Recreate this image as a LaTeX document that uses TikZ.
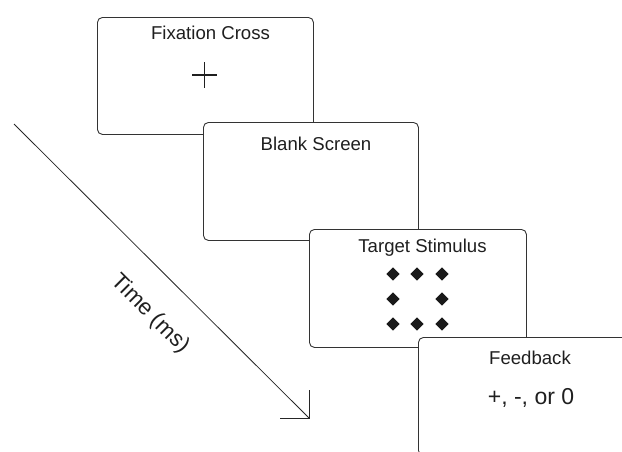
\documentclass[tikz,border=0pt]{standalone}
\usepackage{fontspec}
\setmainfont{Liberation Sans}
\usetikzlibrary{shapes.geometric}
\begin{document}
\begin{tikzpicture}[x=1pt,y=-1pt,
  screen/.style={draw=black!80, fill=white, line width=0.9pt, rounded corners=5pt,
    minimum width=216pt, minimum height=117pt, anchor=north west, inner sep=0pt},
  lbl/.style={font=\fontsize{18.6}{22}\selectfont, text=black!88, inner sep=0pt, anchor=base},
  biglbl/.style={font=\fontsize{23}{27}\selectfont, text=black!88, inner sep=0pt, anchor=base},
  timelbl/.style={font=\fontsize{22.5}{26}\selectfont, text=black!88, inner sep=0pt},
  dot/.style={diamond, fill=black!90, inner sep=0pt, minimum width=13.5pt, minimum height=13.5pt},
  axis/.style={draw=black!85, line width=0.8pt}]
\useasboundingbox (0,0) rectangle (622,451);
\clip (0,0) rectangle (622,451);

% first screen: fixation cross
\node[screen] (fix) at (97,17) {};
\node[lbl] (fixlbl) at (210.5,39) {Fixation Cross};
\coordinate (cl) at (192,75);
\coordinate (cr) at (217,75);
\coordinate (ct) at (204.5,62);
\coordinate (cb) at (204.5,88);
\draw[line width=1.2pt, black!88] (cl) -- (cr) (ct) -- (cb);

% second screen: blank
\node[screen, minimum width=215pt, minimum height=118pt] (blank) at (203,122) {};
\node[lbl] (blanklbl) at (316,150) {Blank Screen};

% third screen: target of eight diamonds
\node[screen, minimum width=217pt, minimum height=118pt] (target) at (309,229) {};
\node[lbl] (targetlbl) at (422.5,252) {Target Stimulus};
\foreach \x/\y [count=\i] in {393/274,417/274,442/274,393/299,442/299,393/324,417/324,442/324}
  \node[dot] (d\i) at (\x,\y) {};

% fourth screen: feedback
\node[screen, minimum width=217pt, minimum height=118pt] (fb) at (418,337) {};
\node[lbl] (fblbl) at (530,364) {Feedback};
\node[biglbl] (fbval) at (531,404) {+, -, or 0};

% time axis
\coordinate (ts) at (14,124);
\coordinate (te) at (309,418);
\draw[axis] (ts) -- (te);
\draw[axis] (te) ++(-29,0) -- (te) -- ++(0,-28);
\node[timelbl, anchor=center, rotate=-45] (timetext) at (150,314) {Time (ms)};
\end{tikzpicture}
\end{document}
